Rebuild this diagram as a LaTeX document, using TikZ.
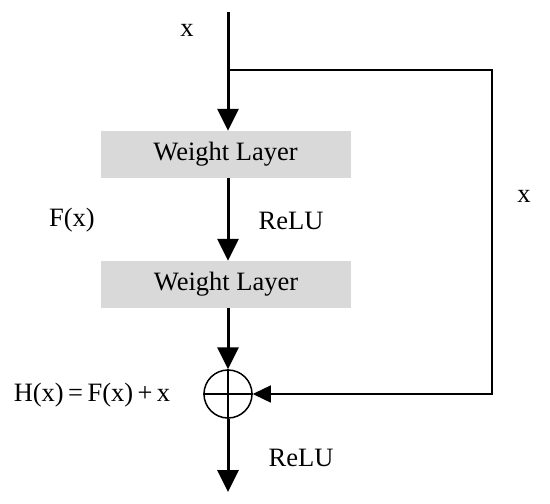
\documentclass[tikz,border=0pt]{standalone}
\usepackage{fontspec}
\setmainfont{Liberation Serif}
\usetikzlibrary{arrows.meta,positioning}
\definecolor{layerfill}{HTML}{D9D9D9}
\begin{document}
\begin{tikzpicture}[x=1pt,y=-1pt,font=\fontsize{26.5}{30}\selectfont,
  layer/.style={fill=layerfill,minimum width=250pt,minimum height=47pt,inner sep=0pt},
  sumnode/.style={circle,draw,line width=1.5pt,minimum size=48pt,inner sep=0pt},
  mainarrow/.style={line width=3pt,-{Triangle[length=22pt,width=21pt]}},
  skiparrow/.style={line width=1.3pt,-{Triangle[length=18pt,width=17pt]}}]
\useasboundingbox (0,0) rectangle (550,504);
\coordinate (in) at (228,12); \coordinate (split) at (228,70);
\coordinate (outer) at (492,70); \coordinate (out) at (228,492);
\node[layer] (w1) at (225.5,154.5) {Weight Layer};
\node[layer] (w2) at (226,284.5) {Weight Layer};
\node[sumnode] (add) at (228,394) {};
\draw[line width=1.5pt] (add.north)--(add.south) (add.west)--(add.east);
\draw[mainarrow] (in) -- (in |- w1.north);
\draw[mainarrow] (in |- w1.south) -- (in |- w2.north);
\draw[mainarrow] (in |- w2.south) -- (add.north);
\draw[mainarrow] (add.south) -- (out);
\draw[skiparrow] (split) -- (outer) |- (add.east);
\node (xin) at (187,30) {x};
\node (fx) at (72,220) {F(x)};
\node (relu1) at (291,221) {ReLU};
\node (relu2) at (301,458) {ReLU};
\node (hx) at (92,395) {H(x)\,=\,F(x)\,+\,x};
\node (xskip) at (524,196) {x};
\end{tikzpicture}
\end{document}
